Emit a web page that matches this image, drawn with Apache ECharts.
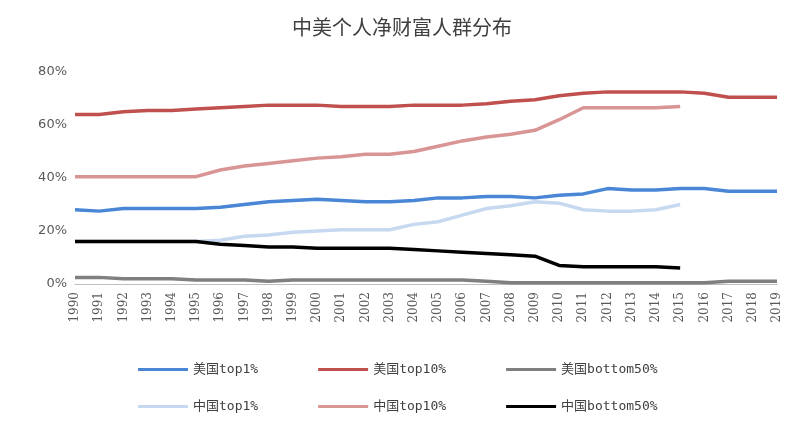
<!DOCTYPE html><html><head><meta charset="utf-8"><script src="https://cdn.jsdelivr.net/npm/echarts@6/dist/echarts.min.js"></script></head><body style="margin:0"><div id="c" style="width:804px;height:425px"></div><script>
const years=[];for(let y=1990;y<=2019;y++)years.push(String(y));
const usTop1=[28,27.5,28.5,28.5,28.5,28.5,29,30,31,31.5,32,31.5,31,31,31.5,32.5,32.5,33,33,32.5,33.5,34,36,35.5,35.5,36,36,35,35,35];
const usTop10=[64,64,65,65.5,65.5,66,66.5,67,67.5,67.5,67.5,67,67,67,67.5,67.5,67.5,68,69,69.5,71,72,72.5,72.5,72.5,72.5,72,70.5,70.5,70.5];
const usBottom50=[2.5,2.5,2,2,2,1.5,1.5,1.5,1,1.5,1.5,1.5,1.5,1.5,1.5,1.5,1.5,1,0.5,0.5,0.5,0.5,0.5,0.5,0.5,0.5,0.5,1,1,1];
const cnTop1=[16,16,16,16,16,16,16.5,18,18.5,19.5,20,20.5,20.5,20.5,22.5,23.5,26,28.5,29.5,31,30.5,28,27.5,27.5,28,30];
const cnTop10=[40.5,40.5,40.5,40.5,40.5,40.5,43,44.5,45.5,46.5,47.5,48,49,49,50,52,54,55.5,56.5,58,62,66.5,66.5,66.5,66.5,67];
const cnBottom50=[16,16,16,16,16,16,15,14.5,14,14,13.5,13.5,13.5,13.5,13,12.5,12,11.5,11,10.5,7,6.5,6.5,6.5,6.5,6];
const names=['美国top1%','美国top10%','美国bottom50%','中国top1%','中国top10%','中国bottom50%'];
const colors=['#4a86d6','#c0504d','#7f7f7f','#c6d9f1','#d99594','#000000'];
const data=[usTop1,usTop10,usBottom50,cnTop1,cnTop10,cnBottom50];
const F='"Noto Sans CJK SC"';
const ch=echarts.init(document.getElementById('c'));
ch.setOption({
 title:{text:'中美个人净财富人群分布',left:'center',top:12,textStyle:{fontFamily:F,fontSize:20,fontWeight:'normal',color:'#404040'}},
 legend:[0,1].map(r=>({data:names.slice(r*3,r*3+3),top:r?395:358,left:133,itemGap:60,itemWidth:50,itemHeight:3,icon:'rect',
   textStyle:{fontFamily:'"DejaVu Sans Mono",'+F,fontSize:13,color:'#404040'}})),
 grid:{left:75,right:27,top:72,bottom:141},
 xAxis:{type:'category',data:years,boundaryGap:false,axisLine:{lineStyle:{color:'#bfbfbf'}},axisTick:{show:false},
   axisLabel:{rotate:90,interval:0,margin:8,color:'#595959',fontSize:12,fontFamily:'"DejaVu Serif"'}},
 yAxis:{type:'value',min:0,max:80,interval:20,splitLine:{show:false},axisLine:{show:false},axisTick:{show:false},
   axisLabel:{formatter:'{value}%',color:'#595959',fontSize:13,fontFamily:'"DejaVu Sans"'}},
 series:data.map((d,i)=>({name:names[i],type:'line',data:d,symbol:'none',lineStyle:{width:3.5,color:colors[i]},itemStyle:{color:colors[i]}}))
});
</script></body></html>
